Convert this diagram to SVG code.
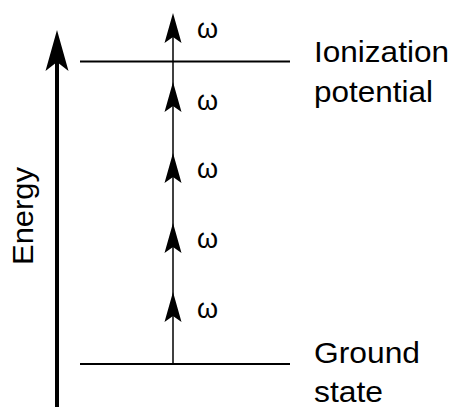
<svg xmlns="http://www.w3.org/2000/svg" width="452" height="407" viewBox="0 0 452 407">
  <style>
    .lbl { font-family: "Liberation Sans", Arial, sans-serif; font-size: 30px; fill: #000; }
    .w { font-family: "Liberation Sans", Arial, sans-serif; font-size: 27px; fill: #000; }
    .level { stroke: #000; stroke-width: 2.2; fill: none; }
    .photon { stroke: #000; stroke-width: 1.5; fill: none; }
    .head { fill: #000; stroke: none; }
  </style>
  <defs>
    <path id="smallHead" class="head" d="M0,0 L8.5,30 L0,24 L-8.5,30 Z"/>
  </defs>

  <!-- energy axis -->
  <g id="energy-axis">
    <line x1="57" y1="60" x2="57" y2="407" stroke="#000" stroke-width="4"/>
    <path class="head" d="M57,30 L68.5,71 L57,62 L45.5,71 Z"/>
    <text class="lbl" transform="translate(33,216) rotate(-90)" text-anchor="middle" textLength="98" lengthAdjust="spacingAndGlyphs">Energy</text>
  </g>

  <!-- energy levels -->
  <g id="ionization-level">
    <line class="level" x1="80" y1="61.5" x2="290" y2="61.5"/>
    <text class="lbl" x="314" y="62" textLength="135" lengthAdjust="spacingAndGlyphs">Ionization</text>
    <text class="lbl" x="314" y="102" textLength="119" lengthAdjust="spacingAndGlyphs">potential</text>
  </g>
  <g id="ground-level">
    <line class="level" x1="80" y1="364" x2="290" y2="364"/>
    <text class="lbl" x="314" y="363" textLength="106" lengthAdjust="spacingAndGlyphs">Ground</text>
    <text class="lbl" x="314" y="402" textLength="69" lengthAdjust="spacingAndGlyphs">state</text>
  </g>

  <!-- photon absorption ladder -->
  <g id="connectors">
    <line class="photon" x1="173" y1="364" x2="173" y2="20"/>
    <use href="#smallHead" x="173" y="13"/>
    <use href="#smallHead" x="173" y="82"/>
    <use href="#smallHead" x="173" y="153"/>
    <use href="#smallHead" x="173" y="223"/>
    <use href="#smallHead" x="173" y="292"/>
  </g>

  <g id="photon-labels">
    <text class="w" x="197" y="38">ω</text>
    <text class="w" x="197" y="110">ω</text>
    <text class="w" x="197" y="178">ω</text>
    <text class="w" x="197" y="248">ω</text>
    <text class="w" x="197" y="318">ω</text>
  </g>
</svg>
